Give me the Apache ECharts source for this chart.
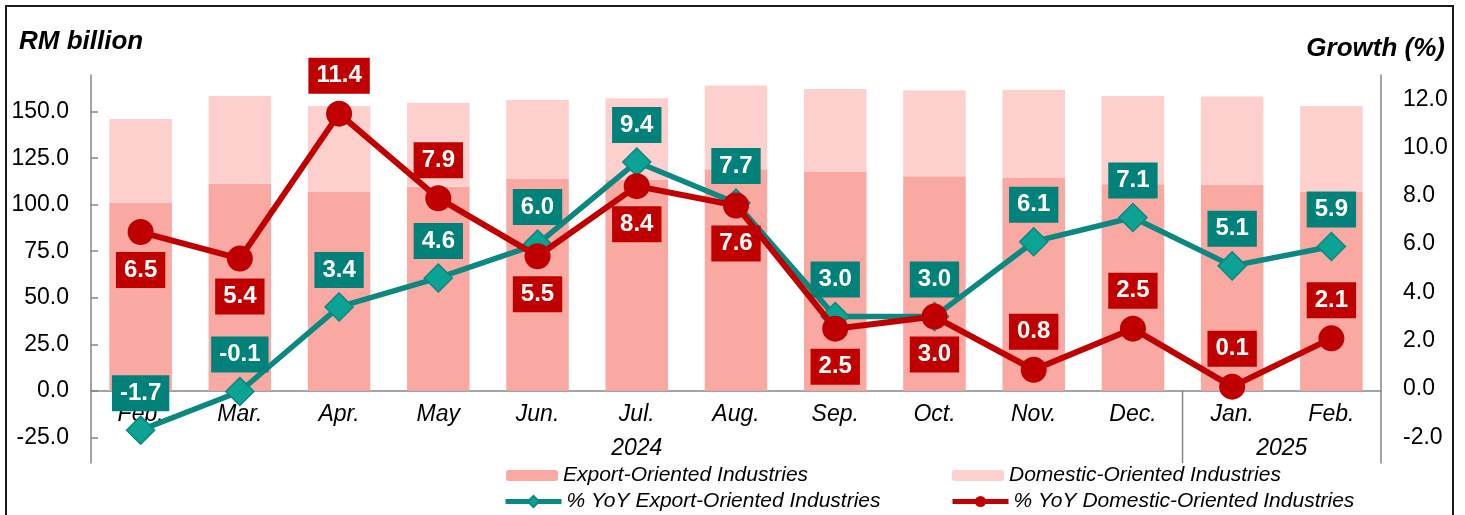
<!DOCTYPE html>
<html>
<head>
<meta charset="utf-8">
<script src="https://cdn.jsdelivr.net/npm/echarts@6/dist/echarts.min.js"></script>
<style>
html, body { margin: 0; padding: 0; background: #fff; }
#chart { width: 1465px; height: 515px; }
</style>
</head>
<body>
<div id="chart"></div>
<script>
// categories
var months = ['Feb.', 'Mar.', 'Apr.', 'May', 'Jun.', 'Jul.', 'Aug.', 'Sep.', 'Oct.', 'Nov.', 'Dec.', 'Jan.', 'Feb.'];
var years = ['2024', '2025'];
// RM billion (stacked bars)
var exportSales = [100.9, 111.3, 106.8, 109.7, 113.8, 113.3, 119.0, 117.8, 115.3, 114.4, 111.0, 110.6, 107.0];
var domesticSales = [45.2, 47.1, 46.3, 45.1, 42.5, 43.9, 45.0, 44.4, 46.2, 47.4, 47.4, 47.5, 46.1];
// growth (%)
var yoyExport = [-1.7, -0.1, 3.4, 4.6, 6.0, 9.4, 7.7, 3.0, 3.0, 6.1, 7.1, 5.1, 5.9];
var yoyDomestic = [6.5, 5.4, 11.4, 7.9, 5.5, 8.4, 7.6, 2.5, 3.0, 0.8, 2.5, 0.1, 2.1];
// tick labels
var leftTicks = [-25, 0, 25, 50, 75, 100, 125, 150];
var rightTicks = [-2, 0, 2, 4, 6, 8, 10, 12];

// label placement: 1 = below the point, -1 = above
var domesticSide = [1, 1, -1, -1, 1, 1, 1, 1, 1, -1, -1, -1, -1];

var FONT = '"Liberation Sans", Arial, sans-serif';
var RED = '#C00000';
var TEAL = '#0B8880';
var TEAL_BOX = '#00827A';

var GRID = { left: 91, right: 84, top: 75, bottom: 52 };
var LEFT_MIN = -38.8, LEFT_MAX = 169.7;
var plotH = 515 - GRID.top - GRID.bottom;
// shift the category axis up from the grid bottom to the zero line
var zeroShift = plotH * (0 - LEFT_MIN) / (LEFT_MAX - LEFT_MIN);

var chart = echarts.init(document.getElementById('chart'));

function boxLabel(bg) {
    return {
        show: true,
        position: 'inside',
        color: '#fff',
        fontFamily: FONT,
        fontWeight: 'bold',
        fontSize: 24,
        lineHeight: 24,
        backgroundColor: bg,
        padding: [6, 8, 6, 8],
        formatter: function (p) { return p.value.toFixed(1) }
    }
}

var legendText = { fontFamily: FONT, fontStyle: 'italic', fontSize: 21, color: '#000' };
function oneLegend(name, left, top, w, h) {
    return {
        data: [name], left: left, top: top,
        padding: 0,
        itemWidth: w, itemHeight: h,
        lineStyle: { width: 5 },
        textStyle: legendText
    }
}

var option = {
    animation: false,
    grid: GRID,
    legend: [
        oneLegend('Export-Oriented Industries', 506, 465, 52, 11),
        oneLegend('Domestic-Oriented Industries', 952, 465, 52, 11),
        oneLegend('% YoY Export-Oriented Industries', 503, 491, 56, 14),
        oneLegend('% YoY Domestic-Oriented Industries', 950, 491, 56, 14)
    ],
    xAxis: {
        type: 'category',
        data: months,
        offset: -zeroShift,
        axisLine: { onZero: false, lineStyle: { color: '#868686', width: 1.5 } },
        axisTick: { show: false },
        axisLabel: { fontFamily: FONT, fontStyle: 'italic', fontSize: 23, color: '#000', margin: 12 }
    },
    yAxis: [
        {
            type: 'value',
            min: LEFT_MIN, max: LEFT_MAX,
            splitLine: { show: false },
            axisLine: { show: true, lineStyle: { color: '#868686', width: 1.5 } },
            axisTick: { show: true, inside: true, length: 7, customValues: leftTicks, lineStyle: { color: '#868686', width: 1.5 } },
            axisLabel: {
                customValues: leftTicks,
                fontFamily: FONT, fontSize: 23, color: '#000', margin: 22,
                formatter: function (v) { return v.toFixed(1) }
            }
        },
        {
            type: 'value',
            position: 'right',
            min: -3.06, max: 13.0,
            splitLine: { show: false },
            axisLine: { show: true, lineStyle: { color: '#868686', width: 1.5 } },
            axisTick: { show: false },
            axisLabel: {
                customValues: rightTicks,
                fontFamily: FONT, fontSize: 23, color: '#000', margin: 22,
                formatter: function (v) { return v.toFixed(1) }
            }
        }
    ],
    series: [
        {
            name: 'Export-Oriented Industries',
            type: 'bar', stack: 'sales', yAxisIndex: 0,
            barWidth: '63%',
            itemStyle: { color: '#F9A8A2' },
            data: exportSales
        },
        {
            name: 'Domestic-Oriented Industries',
            type: 'bar', stack: 'sales', yAxisIndex: 0,
            barWidth: '63%',
            itemStyle: { color: '#FDD0CE' },
            data: domesticSales
        },
        {
            name: '% YoY Export-Oriented Industries',
            type: 'line', yAxisIndex: 1,
            symbol: 'diamond', symbolSize: 28,
            lineStyle: { color: TEAL, width: 5.5 },
            itemStyle: { color: '#0AA394', borderColor: TEAL, borderWidth: 1.5 },
            label: boxLabel(TEAL_BOX),
            z: 3,
            data: yoyExport.map(function (v) {
                return { value: v, label: { offset: [0, -37] } }
            })
        },
        {
            name: '% YoY Domestic-Oriented Industries',
            type: 'line', yAxisIndex: 1,
            symbol: 'circle', symbolSize: 26,
            lineStyle: { color: RED, width: 6 },
            itemStyle: { color: RED },
            label: boxLabel(RED),
            z: 4,
            data: yoyDomestic.map(function (v, i) {
                return { value: v, label: { offset: [0, domesticSide[i] * 38] } }
            })
        }
    ]
};

chart.setOption(option);

// multi-level category axis: year labels and group separator
var px = function (i) { return chart.convertToPixel({ xAxisIndex: 0 }, i) };
var zeroY = chart.convertToPixel({ yAxisIndex: 0 }, 0);
var gridBottom = 515 - GRID.bottom;
var sepX = (px(10) + px(11)) / 2;
var yearStyle = { fontFamily: FONT, fontStyle: 'italic', fontSize: 23, fill: '#000', textAlign: 'center', textVerticalAlign: 'middle' };

chart.setOption({
    graphic: [
        { type: 'rect', shape: { x: 6, y: 6, width: 1447, height: 530 }, style: { fill: null, stroke: '#1a1a1a', lineWidth: 2 }, silent: true },
        { type: 'text', x: 19, y: 42, style: { text: 'RM billion', fontFamily: FONT, fontStyle: 'italic', fontWeight: 'bold', fontSize: 26, fill: '#000', textVerticalAlign: 'middle' } },
        { type: 'text', x: 1445, y: 49, style: { text: 'Growth (%)', fontFamily: FONT, fontStyle: 'italic', fontWeight: 'bold', fontSize: 26, fill: '#000', textAlign: 'right', textVerticalAlign: 'middle' } },
        { type: 'line', shape: { x1: sepX, y1: zeroY, x2: sepX, y2: gridBottom }, style: { stroke: '#868686', lineWidth: 1.5 } },
        { type: 'text', x: (px(0) + px(10)) / 2, y: 449, style: Object.assign({ text: years[0] }, yearStyle) },
        { type: 'text', x: (px(11) + px(12)) / 2, y: 449, style: Object.assign({ text: years[1] }, yearStyle) }
    ]
});
</script>
</body>
</html>
